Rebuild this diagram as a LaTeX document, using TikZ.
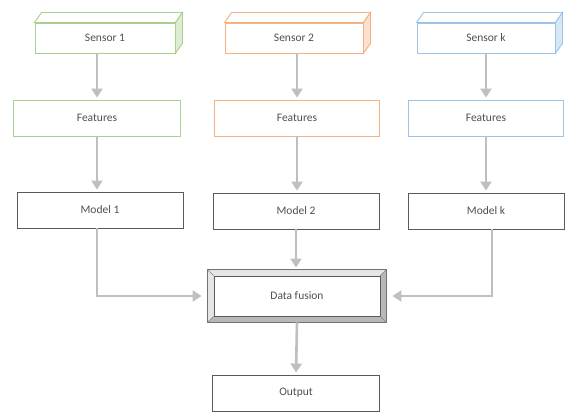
\documentclass[tikz,border=0pt]{standalone}
\usepackage{fontspec}
\setmainfont{Carlito}
\usetikzlibrary{arrows.meta,calc}
\definecolor{sgreen}{HTML}{A9D18E}
\definecolor{sorange}{HTML}{F4B183}
\definecolor{sblue}{HTML}{9DC3E6}
\definecolor{txt}{HTML}{505050}
\definecolor{arr}{HTML}{BFBFBF}
\definecolor{mborder}{HTML}{5A5A5A}
\tikzset{
  box/.style={draw, line width=0.9pt, minimum height=36pt, inner sep=0pt, font=\fontsize{11.5}{13}\selectfont, text=txt, fill=white},
  sensorbox/.style={box, minimum height=30pt},
  flow/.style={draw=arr, line width=2.6pt, -{Triangle[width=11pt,length=9pt]}, shorten >=2pt},
}
\newcommand{\threed}[3]{% node, border color, side fill
  \draw[draw=#2, line width=0.9pt, fill=white] (#1.north west) -- ++(7,-10) -- ($(#1.north east)+(7,-10)$) -- (#1.north east) -- cycle;
  \draw[draw=#2, line width=0.9pt, fill=#3] (#1.north east) -- ++(7,-10) -- ($(#1.south east)+(7,-10)$) -- (#1.south east) -- cycle;
}
\begin{document}
\begin{tikzpicture}[x=1pt,y=-1pt]
\useasboundingbox[fill=white] (0,0) rectangle (566,412);
% sensors
\node[sensorbox, draw=sgreen, minimum width=140pt] (s1) at (105,38) {Sensor 1};
\node[sensorbox, draw=sorange, minimum width=138pt] (s2) at (294,38) {Sensor 2};
\node[sensorbox, draw=sblue, minimum width=138pt] (sk) at (486,38) {Sensor k};
\threed{s1}{sgreen}{sgreen!40}
\threed{s2}{sorange}{sorange!40}
\threed{sk}{sblue}{sblue!40}
% features
\node[box, draw=sgreen, minimum width=167pt] (f1) at (97,118) {Features};
\node[box, draw=sorange, minimum width=165pt] (f2) at (297,118) {Features};
\node[box, draw=sblue, minimum width=155pt] (fk) at (486,118) {Features};
% models
\node[box, draw=mborder, minimum width=166pt] (m1) at (100,210) {Model 1};
\node[box, draw=mborder, minimum width=166pt] (m2) at (296,211) {Model 2};
\node[box, draw=mborder, minimum width=156pt] (mk) at (486,211) {Model k};
% data fusion (beveled frame)
\node[draw=mborder, line width=0.9pt, minimum width=178pt, minimum height=52pt, inner sep=0pt, fill=black!25] (df) at (297,296) {};
\fill[black!10] (df.north west) -- (df.north east) -- ++(-6,6) -- ($(df.south west)+(6,-6)$) -- (df.south west) -- cycle;
\fill[black!28] (df.south east) -- (df.south west) -- ++(6,-6) -- ($(df.north east)+(-6,6)$) -- (df.north east) -- cycle;
\draw[black!55, line width=0.9pt] (df.north west) rectangle (df.south east);
\node[box, draw=mborder, minimum width=166pt, minimum height=40pt] (dfin) at (df.center) {Data fusion};
\foreach \a/\b in {north west/{(6,6)}, north east/{(-6,6)}, south west/{(6,-6)}, south east/{(-6,-6)}}
  \draw[black!50, line width=0.6pt] (df.\a) -- ++\b;
% output
\node[box, draw=mborder, minimum width=167pt] (out) at (296,393) {Output};
% arrows
\draw[flow] (f1.north |- s1.south) -- (f1.north);
\draw[flow] (f2.north |- s2.south) -- (f2.north);
\draw[flow] (fk.north |- sk.south) -- (fk.north);
\draw[flow] (f1.south) -- (f1.south |- m1.north);
\draw[flow] (f2.south) -- (f2.south |- m2.north);
\draw[flow] (fk.south) -- (fk.south |- mk.north);
\draw[flow, shorten >=6pt] ($(m1.south)+(-3,0)$) |- (df.west);
\draw[flow] (m2.south) -- (m2.south |- df.north);
\draw[flow, shorten >=6pt] ($(mk.south)+(6,0)$) |- (df.east);
\draw[flow] (df.south) -- (out.north);
\end{tikzpicture}
\end{document}
